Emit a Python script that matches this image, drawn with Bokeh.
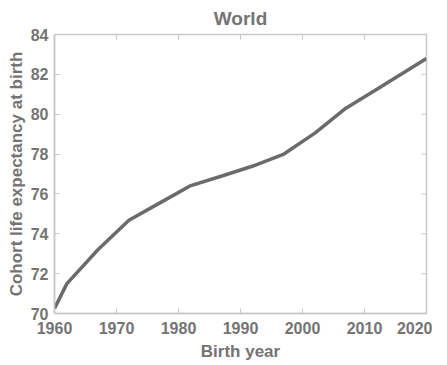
import math
from bokeh.plotting import figure
from bokeh.layouts import row
from bokeh.models import Range1d, FixedTicker, Spacer
from bokeh.embed import file_html
from bokeh.resources import INLINE

years = [1960, 1962, 1967, 1972, 1977, 1982, 1987, 1992, 1997, 2002, 2007, 2012, 2020]
life_exp = [70.25, 71.5, 73.2, 74.68, 75.55, 76.42, 76.9, 77.4, 78.0, 79.05, 80.3, 81.25, 82.8]
x_ticks = [1960, 1970, 1980, 1990, 2000, 2010, 2020]
y_ticks = [70, 72, 74, 76, 78, 80, 82, 84]

TXT = "#747474"
AX = "#c8c8c8"
FONT = "Liberation Sans"

p = figure(frame_width=372, frame_height=279, output_backend="svg", toolbar_location=None,
           x_range=Range1d(1960, 2020), y_range=Range1d(70, 84),
           title="World", min_border_left=47, min_border_right=6,
           min_border_top=4, min_border_bottom=10)
p.title.align = "center"
p.title.text_color = TXT
p.title.text_font = FONT
p.title.text_font_style = "bold"
p.title.text_font_size = "19px"
p.title.standoff = 11
p.grid.visible = False
p.outline_line_color = AX
p.outline_line_width = 1.5
p.background_fill_color = "white"

p.line(years, life_exp, line_color="#6b6b6b", line_width=3.5)

# inward ticks on the top and right edges of the box
p.ray(x=x_ticks, y=[84] * len(x_ticks), length=5, angle=-math.pi / 2,
      length_units="screen", line_color=AX, line_width=1)
p.ray(x=[2020] * len(y_ticks), y=y_ticks, length=5, angle=math.pi,
      length_units="screen", line_color=AX, line_width=1)

def style(ax):
    ax.axis_line_color = AX
    ax.axis_line_width = 1.5
    ax.major_tick_line_color = AX
    ax.major_tick_in = 5
    ax.major_tick_out = 0
    ax.minor_tick_line_color = None
    ax.major_label_text_color = TXT
    ax.major_label_text_font = FONT
    ax.major_label_text_font_style = "bold"
    ax.major_label_text_font_size = "16px"
    ax.axis_label_text_color = TXT
    ax.axis_label_text_font = FONT
    ax.axis_label_text_font_style = "bold"
    ax.axis_label_text_font_size = "17px"

p.xaxis.ticker = FixedTicker(ticks=x_ticks)
p.yaxis.ticker = FixedTicker(ticks=y_ticks)
p.xaxis.axis_label = "Birth year"
p.yaxis.axis_label = "Cohort life expectancy at birth"
style(p.xaxis[0])
style(p.yaxis[0])
p.xaxis.major_label_standoff = 8
p.xaxis.axis_label_standoff = 5
p.yaxis.major_label_standoff = 6
p.yaxis.axis_label_standoff = 2

layout = row(Spacer(width=3), p)

open("out.html", "w").write(file_html(layout, INLINE))
